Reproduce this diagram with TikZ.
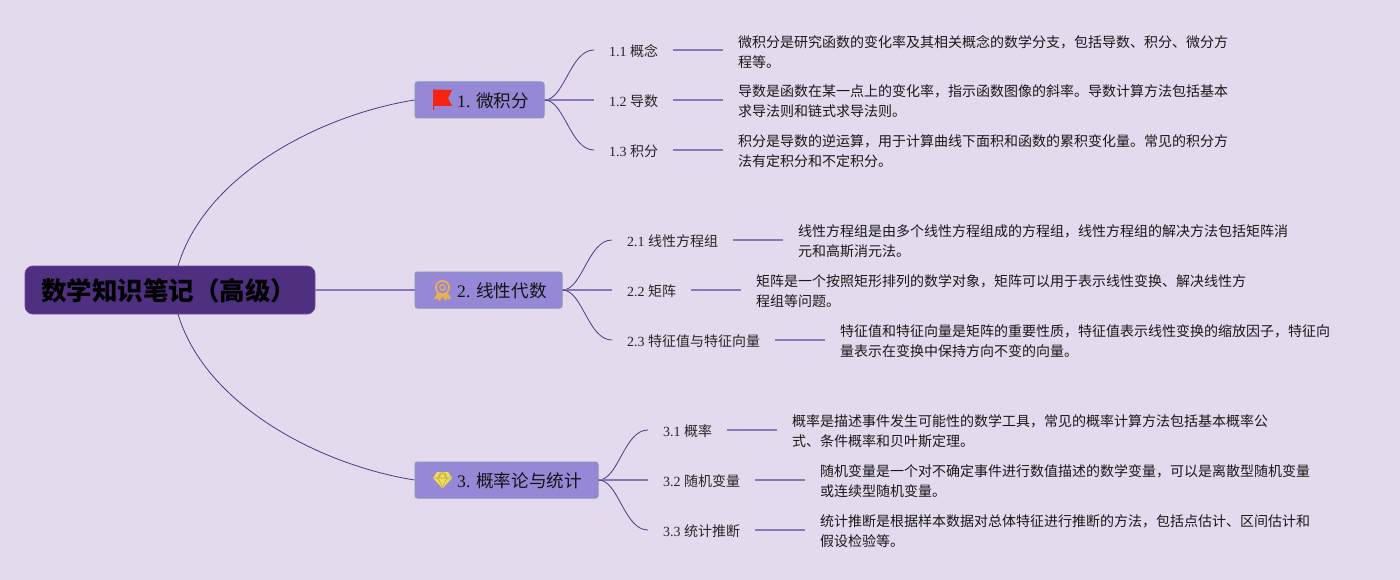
\documentclass[tikz,border=0pt]{standalone}
\usepackage{fontspec}
\usetikzlibrary{calc}
\setmainfont{Liberation Serif}
\newfontfamily\cjk{Noto Sans CJK SC}
\definecolor{bgc}{HTML}{E3DAED}
\definecolor{rootc}{HTML}{4F2F80}
\definecolor{rootb}{HTML}{6A4C9C}
\definecolor{topicc}{HTML}{9688D6}
\definecolor{topicb}{HTML}{7F97B8}
\definecolor{curvec}{HTML}{4C3A86}
\definecolor{linec}{HTML}{8C78B8}
\definecolor{medalc}{HTML}{E8B050}
\definecolor{gemc}{HTML}{F0DE50}
\definecolor{gemd}{HTML}{B8A868}
\definecolor{flagc}{HTML}{F5230F}
\tikzset{
  rootbox/.style={draw=rootb,fill=rootc,line width=0.8pt,rounded corners=8pt,minimum width=290pt,minimum height=48pt,inner sep=0pt},
  roottext/.style={inner sep=0pt,anchor=west,font=\fontsize{25.5}{30}\selectfont\cjk\bfseries,text=black},
  topicbox/.style={draw=topicb,fill=topicc,line width=1pt,rounded corners=2.5pt,minimum height=36pt,inner sep=0pt},
  topictext/.style={inner sep=0pt,anchor=west,font=\fontsize{17.6}{22}\selectfont,text=black!92},
  sublabel/.style={anchor=west,inner xsep=15pt,inner ysep=0pt,font=\fontsize{14}{20}\selectfont,text=black!85},
  desc/.style={anchor=west,inner xsep=15.5pt,inner ysep=0pt,align=left,font=\fontsize{14}{20}\selectfont\cjk,text=black!90},
  curve/.style={draw=curvec,line width=0.8pt},
  branch/.style={draw=linec,line width=1.3pt},
}
\newcommand{\lab}[2]{\raisebox{0pt}[13pt][0pt]{#1 {\cjk #2}}}
\begin{document}
\begin{tikzpicture}[x=1pt,y=-1pt]
\useasboundingbox[fill=bgc] (0,0) rectangle (1400,580);
\node[rootbox] (root) at (170,290) {};
\node[roottext] (rt) at (41,291) {数学知识笔记（高级）};
\node[topicbox,minimum width=129pt] (t1) at (479.5,100) {};
\node[topicbox,minimum width=147pt] (t2) at (488.5,290) {};
\node[topicbox,minimum width=183pt] (t3) at (506.5,480) {};
\node[topictext] (tt1) at (457,100.5) {1. {\cjk 微积分}};
\node[topictext] (tt2) at (457,290.5) {2. {\cjk 线性代数}};
\node[topictext] (tt3) at (457,480.5) {3. {\cjk 概率论与统计}};
% icons
\fill[flagc] (433,89.5) -- (452,90) -- (448,98) -- (452,106) -- (434.2,106) -- (434.2,110) -- (433,110) -- cycle;
\draw[medalc,line width=1.7pt] (442.5,287.5) circle (6.6);
\draw[medalc,line width=1.2pt] (442.5,287.5) circle (2.8);
\fill[medalc] (437,293) -- (434,299) -- (437.5,298.6) -- (439.5,301) -- (442.5,296.5) -- (445.5,301) -- (447.5,298.6) -- (451,299) -- (448,293) -- cycle;
\fill[gemc] (437,472) -- (448,472) -- (452,478) -- (442.5,488.5) -- (433,478) -- cycle;
\draw[gemd,line width=0.6pt] (433.5,478) -- (451.5,478) (438,478) -- (442.5,487.5) -- (447,478) (440.5,472.5) -- (438,478) -- (442.5,472.5) -- (447,478) -- (444.5,472.5);
% sub-labels
\node[sublabel] (a1) at (594,50) {\lab{1.1}{概念}};
\node[sublabel] (a2) at (594,100) {\lab{1.2}{导数}};
\node[sublabel] (a3) at (594,150) {\lab{1.3}{积分}};
\node[sublabel] (b1) at (612,240) {\lab{2.1}{线性方程组}};
\node[sublabel] (b2) at (612,290) {\lab{2.2}{矩阵}};
\node[sublabel] (b3) at (612,340) {\lab{2.3}{特征值与特征向量}};
\node[sublabel] (c1) at (648,430) {\lab{3.1}{概率}};
\node[sublabel] (c2) at (648,480) {\lab{3.2}{随机变量}};
\node[sublabel] (c3) at (648,530) {\lab{3.3}{统计推断}};
% descriptions
\node[desc] (da1) at (722.5,52) {微积分是研究函数的变化率及其相关概念的数学分支，包括导数、积分、微分方\\程等。};
\node[desc] (da2) at (722.5,101) {导数是函数在某一点上的变化率，指示函数图像的斜率。导数计算方法包括基本\\求导法则和链式求导法则。};
\node[desc] (da3) at (722.5,151) {积分是导数的逆运算，用于计算曲线下面积和函数的累积变化量。常见的积分方\\法有定积分和不定积分。};
\node[desc] (db1) at (782.5,241) {线性方程组是由多个线性方程组成的方程组，线性方程组的解决方法包括矩阵消\\元和高斯消元法。};
\node[desc] (db2) at (740.5,291) {矩阵是一个按照矩形排列的数学对象，矩阵可以用于表示线性变换、解决线性方\\程组等问题。};
\node[desc] (db3) at (824.5,341) {特征值和特征向量是矩阵的重要性质，特征值表示线性变换的缩放因子，特征向\\量表示在变换中保持方向不变的向量。};
\node[desc] (dc1) at (776.5,431) {概率是描述事件发生可能性的数学工具，常见的概率计算方法包括基本概率公\\式、条件概率和贝叶斯定理。};
\node[desc] (dc2) at (804.5,481) {随机变量是一个对不确定事件进行数值描述的数学变量，可以是离散型随机变量\\或连续型随机变量。};
\node[desc] (dc3) at (804.5,531) {统计推断是根据样本数据对总体特征进行推断的方法，包括点估计、区间估计和\\假设检验等。};
% root connectors
\coordinate (r1) at (178,266);
\coordinate (r3) at (178,314);
\draw[curve] (r1) .. controls (205,175) and (320,115) .. (t1.west);
\draw[branch] (root.east) -- (t2.west);
\draw[curve] (r3) .. controls (205,405) and (320,465) .. (t3.west);
% topic to sub-label
\foreach \t/\p/\q/\r in {t1/a1/a2/a3,t2/b1/b2/b3,t3/c1/c2/c3}{
  \draw[curve] (\t.east) .. controls +(20,0) and ($(\p.west)+(-24,0)$) .. (\p.west);
  \draw[branch] (\t.east) -- (\q.west);
  \draw[curve] (\t.east) .. controls +(20,0) and ($(\r.west)+(-24,0)$) .. (\r.west);
}
% sub-label to description
\foreach \l/\d in {a1/da1,a2/da2,a3/da3,b1/db1,b2/db2,b3/db3,c1/dc1,c2/dc2,c3/dc3}{
  \draw[branch] (\l.east) -- (\l.east -| \d.west);
}
\end{tikzpicture}
\end{document}
